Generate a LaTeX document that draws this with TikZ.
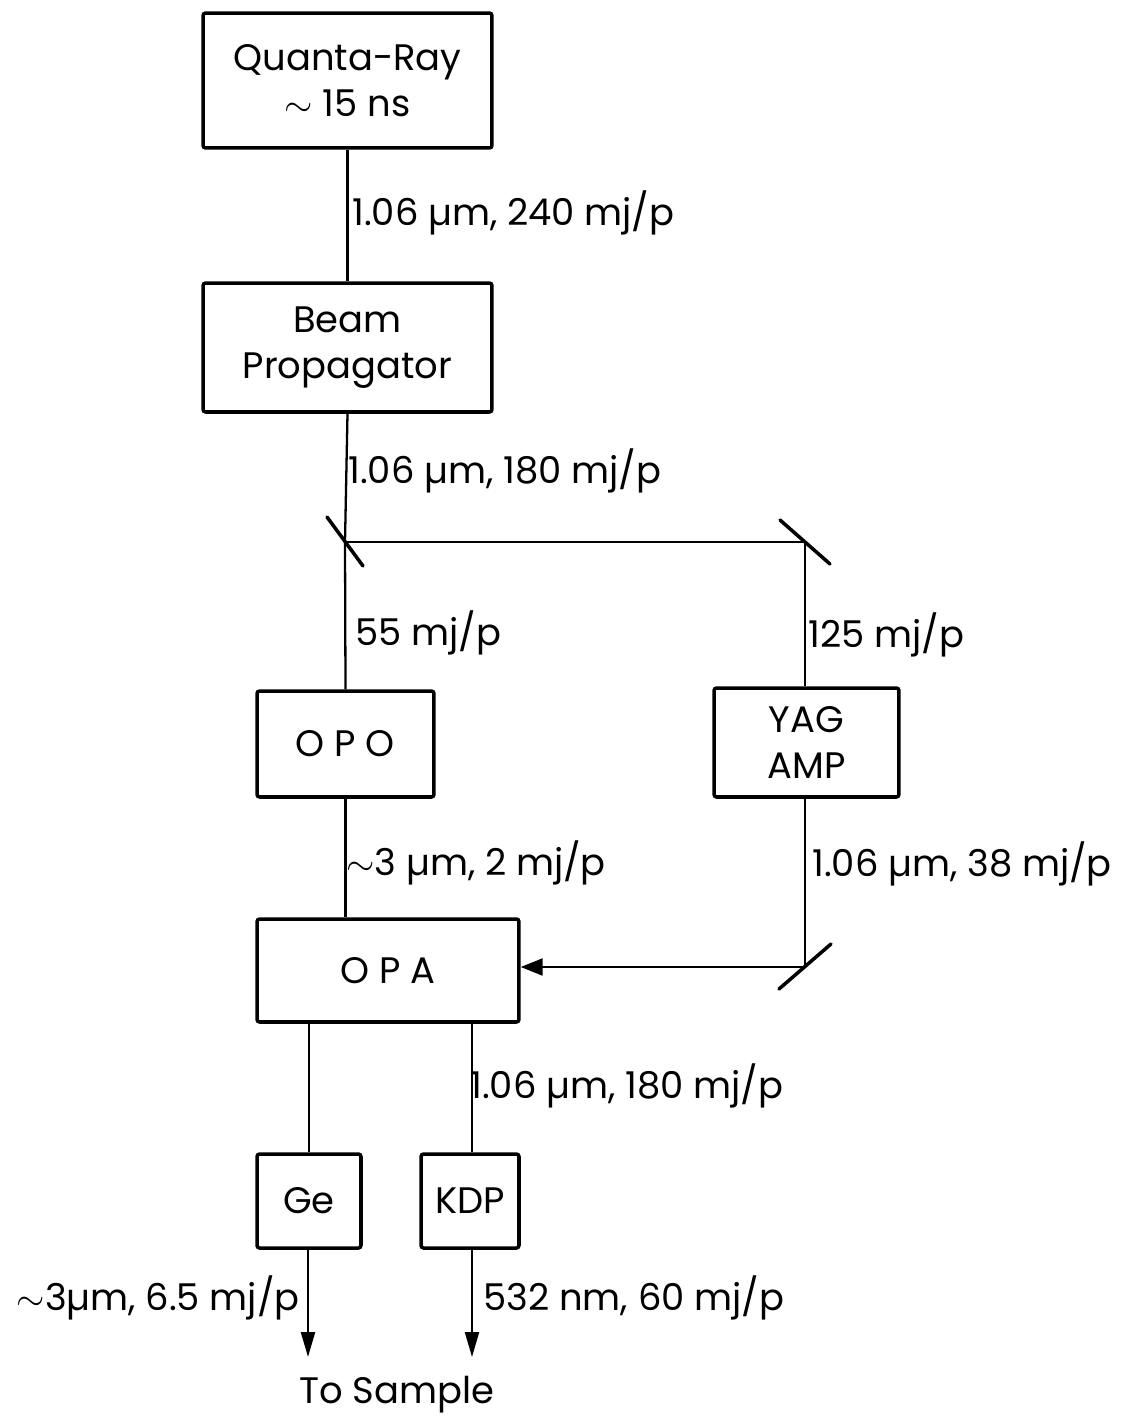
\documentclass[tikz,border=0pt]{standalone}
\usepackage{fontspec}
\setmainfont{Poppins}
\usepackage{tikz}
\usetikzlibrary{arrows.meta}

\tikzset{
  blk/.style={draw, line width=2pt, rounded corners=1.5pt, align=center, inner sep=0pt},
  beam/.style={line width=1.3pt},
  mirror/.style={line width=2pt, line cap=round},
  lbl/.style={anchor=base west, inner sep=0pt},
  lblr/.style={anchor=base east, inner sep=0pt}
}

\begin{document}
\begin{tikzpicture}[x=0.02cm, y=-0.02cm, font=\fontsize{21}{26}\selectfont]
        \useasboundingbox (0,0) rectangle (1126,1417);
        % boxes
        \node[blk, minimum width=5.78cm, minimum height=2.7cm] (qr) at (347.5,80.5) {Quanta-Ray\\$\sim$\;15 ns};
        \node[blk, minimum width=5.78cm, minimum height=2.58cm] (bp) at (347.5,347.5) {Beam\\Propagator};
        \node[blk, minimum width=3.54cm, minimum height=2.12cm] (opo) at (345.5,744) {O P O};
        \node[blk, minimum width=3.7cm, minimum height=2.18cm] (yag) at (806.5,742.5) {YAG\\AMP};
        \node[blk, minimum width=5.24cm, minimum height=2.06cm] (opa) at (388,970.5) {O P A};
        \node[blk, minimum width=2.08cm, minimum height=1.88cm] (ge) at (309,1201) {Ge};
        \node[blk, minimum width=1.96cm, minimum height=1.88cm] (kdp) at (470,1201) {KDP};
        % mirrors and beam ends
        \coordinate (m1) at (345,542);
        \coordinate (m2) at (805,542);
        \coordinate (m3) at (805,967);
        \coordinate (outge) at (308,1357);
        \coordinate (outkdp) at (472,1357);
        \draw[mirror] (m1) ++(-18,-25) -- ++(36,49);
        \draw[mirror] (m2) ++(-25,-22) -- ++(50,44);
        \draw[mirror] (m3) ++(-26,22) -- ++(52,-45);
        % beams
        \draw[beam] (qr.south) -- (bp.north);
        \draw[beam] (bp.south) -- (m1) -- (opo.north);
        \draw[beam] (m1) -- (m2) -- (m2 |- yag.north);
        \draw[beam] (opo.south) -- (opo.south |- opa.north);
        \draw[beam] (m2 |- yag.south) -- (m3);
        \draw[beam, -{Triangle[length=0.44cm, width=0.34cm]}] (m3) -- (m3 -| opa.east);
        \draw[beam] (opa.south -| ge.north) -- (ge.north);
        \draw[beam] (opa.south -| outkdp) -- (kdp.north -| outkdp);
        \draw[beam, -{Triangle[length=0.5cm, width=0.28cm]}] (ge.south -| outge) -- (outge);
        \draw[beam, -{Triangle[length=0.5cm, width=0.28cm]}] (kdp.south -| outkdp) -- (outkdp);
        % labels
        \node[lbl] (l1) at (352,225) {1.06 µm, 240 mj/p};
        \node[lbl] (l2) at (348,483) {1.06 µm, 180 mj/p};
        \node[lbl] (l3) at (355,645) {55 mj/p};
        \node[lbl] (l4) at (808,647) {125 mj/p};
        \node[lbl] (l5) at (346,875) {$\sim$3 µm, 2 mj/p};
        \node[lbl] (l6) at (812,876) {1.06 µm, 38 mj/p};
        \node[lbl] (l7) at (470,1098) {1.06 µm, 180 mj/p};
        \node[lblr] (l8) at (300,1310) {$\sim$3µm, 6.5 mj/p};
        \node[lbl] (l9) at (483,1310) {532 nm, 60 mj/p};
        \node[anchor=base, inner sep=0pt] (ts) at (397,1403) {To Sample};
\end{tikzpicture}
\end{document}
